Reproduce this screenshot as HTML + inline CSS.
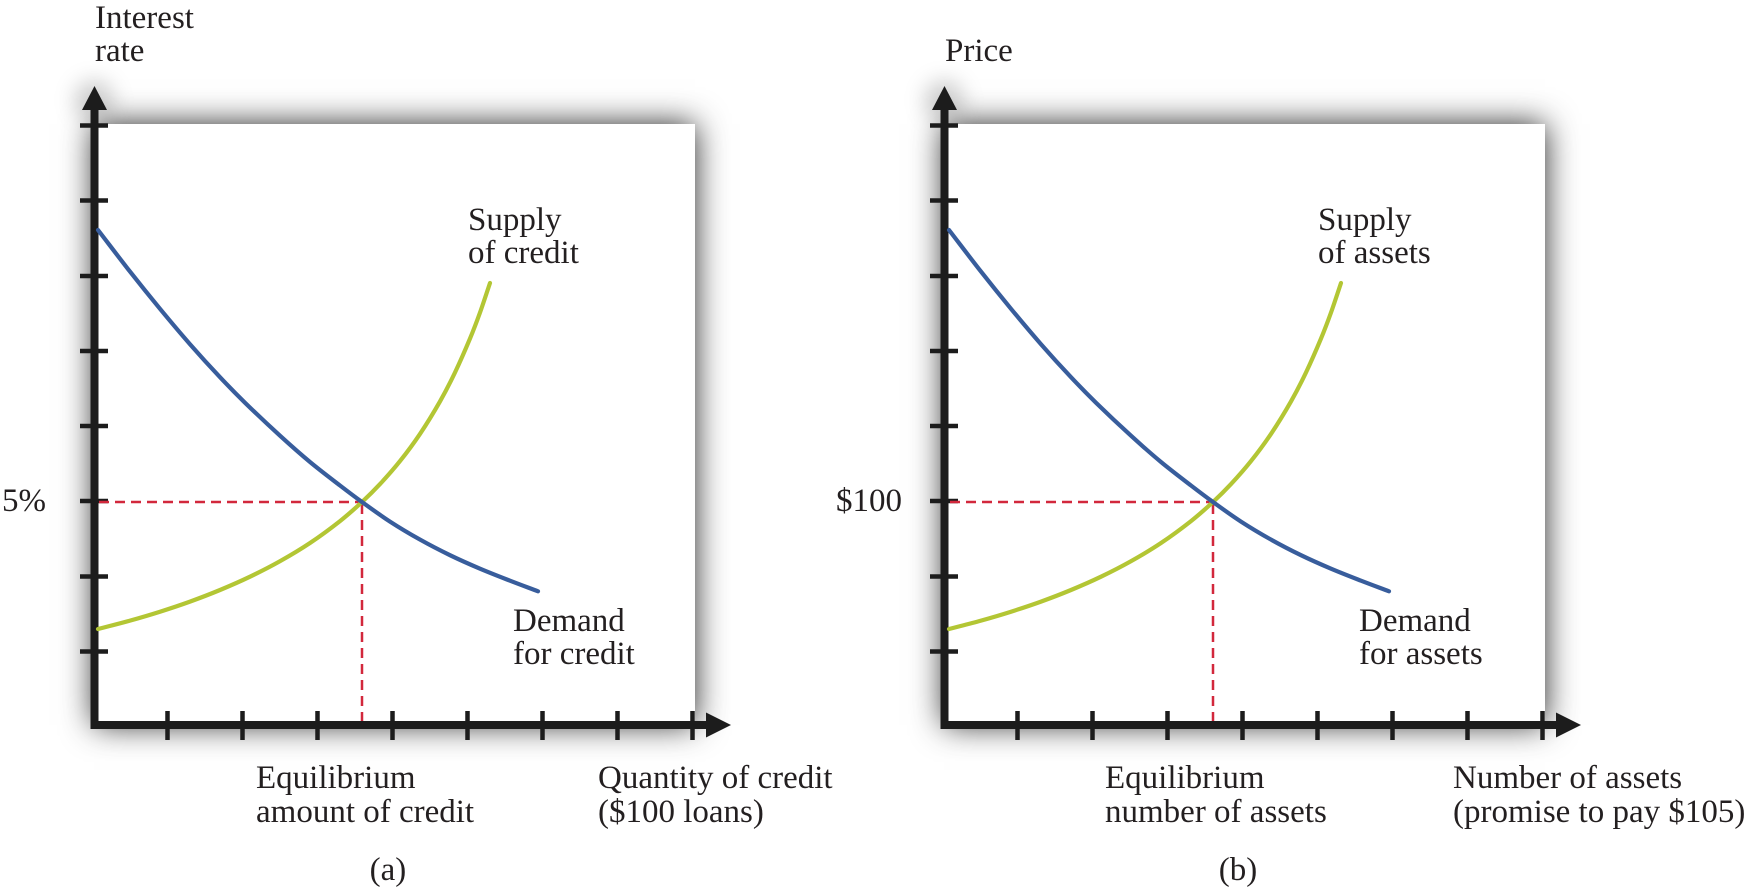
<!DOCTYPE html>
<html>
<head>
<meta charset="utf-8">
<style>
  html, body { margin:0; padding:0; background:#fff; }
  body { width:1747px; height:895px; position:relative; overflow:hidden; }
  .box { position:absolute; top:124px; width:601px; height:601px; background:#fff;
         box-shadow: 0 0 30px rgba(0,0,0,0.85); }
  .glow { position:absolute; top:80px; width:40px; height:40px; border-radius:50%;
          background:rgba(0,0,0,0.18); filter:blur(10px); }
  svg { position:absolute; left:0; top:0; }
  text { font-family:"Liberation Serif", "Times New Roman", serif; font-size:33px; fill:#231f20; }
</style>
</head>
<body>
<div class="glow" style="left:74px;"></div>
<div class="glow" style="left:924px;"></div>
<div class="box" style="left:94px;"></div>
<div class="box" style="left:944px;"></div>
<svg width="1747" height="895" viewBox="0 0 1747 895" xmlns="http://www.w3.org/2000/svg">
  <defs>
    <g id="axes">
      <line x1="94.5" y1="104" x2="94.5" y2="729" stroke="#1c1c1c" stroke-width="8"/>
      <polygon points="94.5,86 82,110 107,110" fill="#1c1c1c"/>
      <line x1="90.5" y1="725" x2="710" y2="725" stroke="#1c1c1c" stroke-width="8"/>
      <polygon points="731,725 706,712.5 706,737.5" fill="#1c1c1c"/>
      <g stroke="#1c1c1c" stroke-width="4.5">
        <line x1="80" y1="125.5" x2="108" y2="125.5"/>
        <line x1="80" y1="200.5" x2="108" y2="200.5"/>
        <line x1="80" y1="276" x2="108" y2="276"/>
        <line x1="80" y1="351" x2="108" y2="351"/>
        <line x1="80" y1="426" x2="108" y2="426"/>
        <line x1="80" y1="501" x2="108" y2="501"/>
        <line x1="80" y1="576.5" x2="108" y2="576.5"/>
        <line x1="80" y1="651.5" x2="108" y2="651.5"/>
      </g>
      <g stroke="#1c1c1c" stroke-width="4.5">
        <line x1="167.5" y1="711" x2="167.5" y2="740"/>
        <line x1="242.5" y1="711" x2="242.5" y2="740"/>
        <line x1="317.5" y1="711" x2="317.5" y2="740"/>
        <line x1="392.5" y1="711" x2="392.5" y2="740"/>
        <line x1="467.5" y1="711" x2="467.5" y2="740"/>
        <line x1="542.5" y1="711" x2="542.5" y2="740"/>
        <line x1="617.5" y1="711" x2="617.5" y2="740"/>
        <line x1="692.5" y1="711" x2="692.5" y2="740"/>
      </g>
    </g>
    <g id="curves">
      <g fill="none" stroke="#d2283c" stroke-width="2.5" stroke-dasharray="10 6">
        <line x1="99" y1="502" x2="362" y2="502"/>
        <line x1="362" y1="504" x2="362" y2="721"/>
      </g>
      <path fill="none" stroke="#b3c634" stroke-width="4.2" stroke-linecap="round"
        d="M98,629 C108.67,626.2 119.67,623.48 130,620.6 C140.33,617.72 150,614.87 160,611.7 C170,608.53 180,605.22 190,601.6 C200,597.98 210,594.15 220,590 C230,585.85 240,581.5 250,576.7 C260,571.9 270,566.82 280,561.2 C290,555.58 300,549.68 310,543 C320,536.32 331.33,527.93 340,521.1 C348.67,514.27 355.33,508.17 362,502 C368.67,495.83 373.67,490.92 380,484.1 C386.33,477.28 393.33,469.47 400,461.1 C406.67,452.73 413.33,443.85 420,433.9 C426.67,423.95 434.17,411.63 440,401.4 C445.83,391.17 450,382.97 455,372.5 C460,362.03 465.83,348.58 470,338.6 C474.17,328.62 476.67,321.87 480,312.6 C483.33,303.33 486.67,292.87 490,283"/>
      <path fill="none" stroke="#385d9c" stroke-width="4.2" stroke-linecap="round"
        d="M98,230 C108.67,243.87 119.67,258.47 130,271.6 C140.33,284.73 150,296.7 160,308.8 C170,320.9 180,332.8 190,344.2 C200,355.6 210.83,367.45 220,377.2 C229.17,386.95 235,392.95 245,402.7 C255,412.45 269.17,425.82 280,435.7 C290.83,445.58 300,453.7 310,462 C320,470.3 331.33,478.83 340,485.5 C348.67,492.17 353.67,495.98 362,502 C370.33,508.02 380.33,515.33 390,521.6 C399.67,527.87 410,534 420,539.6 C430,545.2 440,550.35 450,555.2 C460,560.05 470,564.45 480,568.7 C490,572.95 500.33,576.93 510,580.7 C519.67,584.47 528.67,587.77 538,591.3"/>
    </g>
  </defs>

  <!-- Panel (a) -->
  <use href="#axes"/>
  <use href="#curves"/>

  <text x="95" y="28">Interest</text>
  <text x="95" y="61">rate</text>
  <text x="2" y="511">5%</text>
  <text x="468" y="230">Supply</text>
  <text x="468" y="263">of credit</text>
  <text x="513" y="631">Demand</text>
  <text x="513" y="664">for credit</text>
  <text x="256" y="788">Equilibrium</text>
  <text x="256" y="822">amount of credit</text>
  <text x="598" y="788">Quantity of credit</text>
  <text x="598" y="822">($100 loans)</text>
  <text x="388" y="880" text-anchor="middle">(a)</text>

  <!-- Panel (b) -->
  <use href="#axes" transform="translate(850,0)"/>
  <use href="#curves" transform="translate(851,0)"/>

  <text x="945" y="61">Price</text>
  <text x="836" y="511">$100</text>
  <text x="1318" y="230">Supply</text>
  <text x="1318" y="263">of assets</text>
  <text x="1359" y="631">Demand</text>
  <text x="1359" y="664">for assets</text>
  <text x="1105" y="788">Equilibrium</text>
  <text x="1105" y="822">number of assets</text>
  <text x="1453" y="788">Number of assets</text>
  <text x="1453" y="822">(promise to pay $105)</text>
  <text x="1238" y="880" text-anchor="middle">(b)</text>
</svg>
</body>
</html>
